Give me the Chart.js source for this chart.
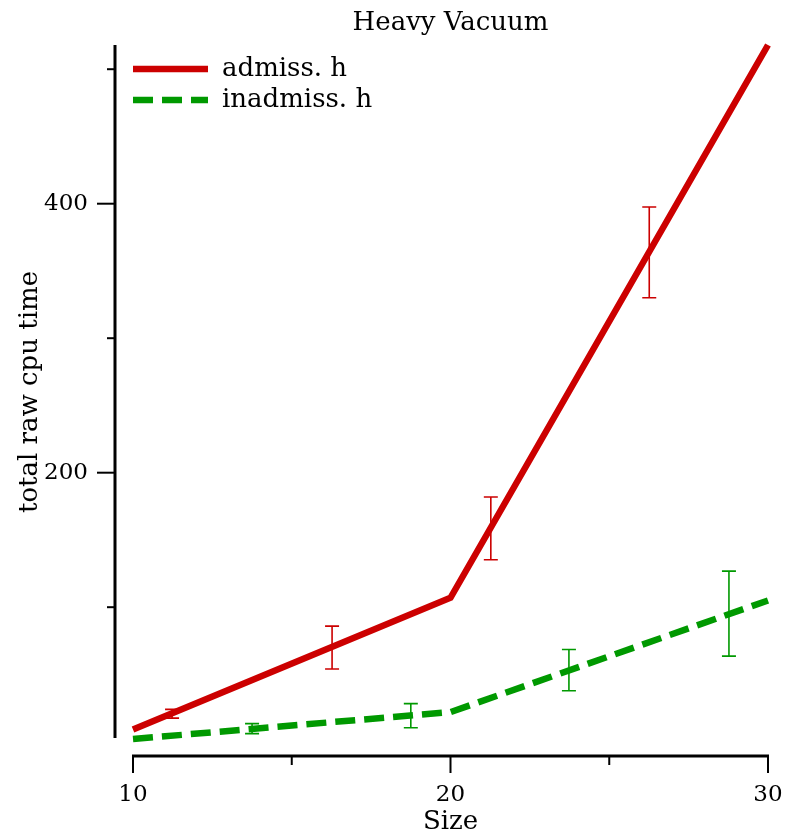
<!DOCTYPE html>
<html>
<head>
<meta charset="utf-8">
<script src="https://cdn.jsdelivr.net/npm/chart.js@4.4.1/dist/chart.umd.min.js"></script>
<style>
  html, body { margin: 0; padding: 0; background: #fff; }
  #wrap { width: 785px; height: 833px; }
</style>
</head>
<body>
<div id="wrap"><canvas id="chart"></canvas></div>
<script>
// Données
const sizes = [10, 20, 30];
const admiss = [9, 107, 518];
const inadmiss = [2, 22, 105];

// Barres d'erreur (x, bas, haut)
const admissErrX = [11.23, 16.27, 21.27, 26.26];
const admissErrLow = [17.5, 54.0, 135.3, 330.1];
const admissErrHigh = [24.0, 85.9, 181.9, 397.5];
const inadmissErrX = [13.75, 18.75, 23.73, 28.77];
const inadmissErrLow = [6.0, 10.4, 37.9, 63.6];
const inadmissErrHigh = [13.4, 28.3, 68.6, 126.8];

// Graduations
const xTicks = [10, 15, 20, 25, 30];
const xLabels = [10, 20, 30];
const yTicks = [100, 200, 300, 400, 500];
const yLabels = [200, 400];

const RED = '#cc0000';
const GREEN = '#009900';

Chart.defaults.font.family = "'DejaVu Serif', serif";
Chart.defaults.color = '#000';

const errors = [
  { x: admissErrX, low: admissErrLow, high: admissErrHigh, color: RED },
  { x: inadmissErrX, low: inadmissErrLow, high: inadmissErrHigh, color: GREEN },
];

// Barres d'erreur
const errorBarsPlugin = {
  id: 'errorBars',
  afterDatasetsDraw(chart) {
    const ctx = chart.ctx;
    const sx = chart.scales.x, sy = chart.scales.y;
    ctx.save();
    ctx.lineWidth = 1.6;
    errors.forEach(e => {
      ctx.strokeStyle = e.color;
      e.x.forEach((xv, i) => {
        const px = sx.getPixelForValue(xv);
        const top = sy.getPixelForValue(e.high[i]);
        const bot = sy.getPixelForValue(e.low[i]);
        ctx.beginPath();
        ctx.moveTo(px, top); ctx.lineTo(px, bot);
        ctx.moveTo(px - 7, top); ctx.lineTo(px + 7, top);
        ctx.moveTo(px - 7, bot); ctx.lineTo(px + 7, bot);
        ctx.stroke();
      });
    });
    ctx.restore();
  }
};

// Axes décalés + petites graduations
const axesPlugin = {
  id: 'axesDecales',
  afterDraw(chart) {
    const ctx = chart.ctx;
    const sx = chart.scales.x, sy = chart.scales.y;
    const area = chart.chartArea;
    ctx.save();
    ctx.strokeStyle = '#000';
    ctx.lineCap = 'butt';

    // axe Y
    const ax = area.left - 18;
    ctx.lineWidth = 3;
    ctx.beginPath();
    ctx.moveTo(ax, area.top);
    ctx.lineTo(ax, area.bottom - 1);
    ctx.stroke();
    ctx.lineWidth = 2;
    yTicks.forEach(v => {
      const py = sy.getPixelForValue(v);
      const len = yLabels.includes(v) ? 18 : 8;
      ctx.beginPath();
      ctx.moveTo(ax, py); ctx.lineTo(ax - len, py);
      ctx.stroke();
    });

    // axe X
    const ay = area.bottom + 17;
    ctx.lineWidth = 3;
    ctx.beginPath();
    ctx.moveTo(area.left - 1, ay);
    ctx.lineTo(area.right + 1, ay);
    ctx.stroke();
    ctx.lineWidth = 2;
    xTicks.forEach(v => {
      const px = sx.getPixelForValue(v);
      const len = xLabels.includes(v) ? 17 : 9;
      ctx.beginPath();
      ctx.moveTo(px, ay); ctx.lineTo(px, ay + len);
      ctx.stroke();
    });
    ctx.restore();
  }
};

// Légende dans la zone du graphique
const legendPlugin = {
  id: 'legendeInterne',
  afterDraw(chart) {
    const ctx = chart.ctx;
    const area = chart.chartArea;
    ctx.save();
    ctx.font = "26px 'DejaVu Serif', serif";
    ctx.textBaseline = 'middle';
    ctx.fillStyle = '#000';
    chart.data.datasets.forEach((ds, i) => {
      const y = area.top + 24 + i * 31;
      ctx.strokeStyle = ds.borderColor;
      ctx.lineWidth = ds.borderWidth;
      ctx.setLineDash(ds.borderDash || []);
      ctx.beginPath();
      ctx.moveTo(area.left, y);
      ctx.lineTo(area.left + 75, y);
      ctx.stroke();
      ctx.setLineDash([]);
      ctx.fillText(ds.label, area.left + 89, y);
    });
    ctx.restore();
  }
};

const ctxChart = document.getElementById('chart').getContext('2d');
new Chart(ctxChart, {
  type: 'line',
  data: {
    datasets: [
      {
        label: 'admiss. h',
        data: sizes.map((s, i) => ({ x: s, y: admiss[i] })),
        borderColor: RED,
        borderWidth: 6.5,
        pointRadius: 0,
        tension: 0,
        clip: false,
      },
      {
        label: 'inadmiss. h',
        data: sizes.map((s, i) => ({ x: s, y: inadmiss[i] })),
        borderColor: GREEN,
        borderWidth: 6.5,
        borderDash: [20, 9],
        pointRadius: 0,
        tension: 0,
        clip: false,
      },
    ],
  },
  options: {
    responsive: true,
    maintainAspectRatio: false,
    animation: false,
    layout: { padding: { left: 0, right: 17, top: 0, bottom: 0 } },
    plugins: {
      legend: { display: false },
      tooltip: { enabled: false },
      title: {
        display: true,
        fullSize: false,
        text: 'Heavy Vacuum',
        font: { size: 26, weight: 'normal' },
        padding: { top: 8, bottom: 5.8 },
      },
    },
    scales: {
      x: {
        type: 'linear',
        min: 10,
        max: 30,
        grid: { display: false },
        border: { display: false },
        ticks: {
          stepSize: 5,
          padding: 34,
          maxRotation: 0,
          font: { size: 23 },
          callback: v => xLabels.includes(v) ? String(v) : '',
        },
        title: { display: true, text: 'Size', font: { size: 26 }, padding: { top: 0, bottom: -5 } },
        afterFit: scale => {
          scale.height = 94;
          scale.paddingLeft = 0;
          scale.paddingRight = 0;
        },
      },
      y: {
        type: 'linear',
        min: 2,
        max: 518,
        grid: { display: false },
        border: { display: false },
        ticks: {
          stepSize: 100,
          padding: 37,
          font: { size: 23 },
          callback: v => yLabels.includes(v) ? String(v) : '',
        },
        title: { display: true, text: 'total raw cpu time', font: { size: 26 }, padding: { top: 14.4, bottom: 0 } },
        afterFit: scale => {
          scale.width = 133;
          scale.paddingTop = 0;
          scale.paddingBottom = 0;
        },
      },
    },
  },
  plugins: [errorBarsPlugin, axesPlugin, legendPlugin],
});
</script>
</body>
</html>
